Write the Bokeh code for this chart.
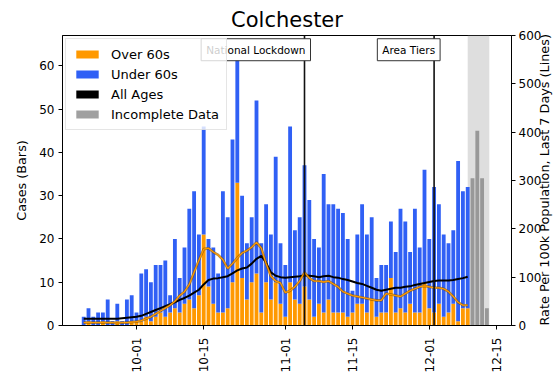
import numpy as np
import pandas as pd
from bokeh.plotting import figure
from bokeh.layouts import row, column
from bokeh.models import (Range1d, LinearAxis, FixedTicker, CustomJSTickFormatter, Span, Spacer,
                          BoxAnnotation, Label, Legend, LegendItem, ColumnDataSource)
from bokeh.embed import file_html
from bokeh.resources import INLINE

# ---------------- data ----------------
title = "Colchester"
start_date = "2020-09-20"
over_60 = [0, 1, 0, 0, 1, 0, 0, 1, 0, 0, 1,
           1, 1, 2, 1, 2, 3, 2, 3, 4, 3,
           5, 6, 4, 7, 21, 9, 5, 3, 3, 4,
           10, 33, 11, 6, 10, 12, 3, 10, 6, 10,
           5, 2, 10, 6, 5, 9, 6, 2, 5, 3,
           6, 3, 3, 3, 2, 3, 5, 5, 3, 6,
           2, 3, 3, 11, 3, 4, 3, 5, 3, 3,
           10, 4, 3, 5, 2, 3, 5, 1, 4, 4]
under_60 = [2, 3, 2, 3, 2, 6, 1, 4, 1, 6, 6,
            2, 11, 11, 9, 12, 11, 13, 4, 16, 8,
            13, 21, 27, 14, 25, 11, 13, 9, 28, 21,
            33, 31, 19, 13, 15, 40, 16, 18, 15, 29,
            14, 12, 36, 16, 20, 28, 23, 18, 13, 32,
            22, 25, 24, 23, 18, 5, 16, 23, 18, 19,
            9, 11, 11, 13, 14, 23, 21, 12, 24, 15,
            26, 16, 29, 23, 19, 16, 17, 37, 27, 28]
rate_all_ages = [14, 14, 14, 14, 14, 14, 14, 14, 15, 16, 17,
                 18, 20, 24, 28, 32, 36, 40, 44, 48, 53,
                 57, 62, 68, 74, 85, 94, 97, 98, 100, 102,
                 108, 114, 118, 120, 128, 138, 144, 130, 110, 103,
                 100, 99, 100, 101, 102, 104, 103, 102, 100, 102,
                 103, 100, 99, 96, 94, 91, 88, 86, 82, 78,
                 74, 72, 74, 76, 78, 78, 80, 81, 84, 86,
                 88, 90, 92, 93, 93, 93, 94, 96, 98, 101]
rate_over_60 = [6, 6, 6, 6, 6, 6, 6, 5, 6, 6, 7,
                8, 10, 14, 18, 24, 30, 36, 42, 50, 62,
                70, 85, 110, 135, 158, 160, 152, 146, 136, 118,
                128, 140, 150, 155, 162, 172, 160, 128, 102, 92,
                88, 68, 72, 80, 92, 110, 98, 92, 92, 90,
                92, 86, 80, 70, 66, 62, 60, 58, 56, 54,
                52, 52, 66, 64, 62, 60, 66, 72, 76, 80,
                82, 80, 78, 78, 76, 70, 60, 48, 42, 42]
incomplete_start = "2020-12-10"
incomplete_cases = [34, 45, 34, 4]
incomplete_span = ["2020-12-09 00:00", "2020-12-13 12:00"]
event_labels = ["National Lockdown", "Area Tiers"]
event_dates = ["2020-11-05", "2020-12-02"]
x_tick_dates = ["2020-10-01", "2020-10-15", "2020-11-01", "2020-11-15", "2020-12-01", "2020-12-15"]
x_limits = ["2020-09-15 14:00", "2020-12-18 03:00"]
left_ticks = [0, 10, 20, 30, 40, 50, 60]
right_ticks = [0, 100, 200, 300, 400, 500, 600]
left_limit = 67
right_limit = 600

ORANGE = "#ff9900"
BLUE = "#3060f5"
FONT = "DejaVu Sans"


def ms(s):
    return pd.Timestamp(s).value / 1e6


dates = pd.date_range(start_date, periods=len(over_60))
inc_dates = pd.date_range(incomplete_start, periods=len(incomplete_cases))
over = np.array(over_60)
under = np.array(under_60)
src = ColumnDataSource(dict(date=dates, over=over, total=over + under,
                            r_all=rate_all_ages, r_over=rate_over_60))
inc_src = ColumnDataSource(dict(date=inc_dates, cases=incomplete_cases))

day_ms = 86400000
bar_w = 0.8 * day_ms

p = figure(frame_width=449, frame_height=290, x_axis_type="datetime",
           x_range=Range1d(ms(x_limits[0]), ms(x_limits[1])),
           y_range=Range1d(0, left_limit),
           output_backend="svg", toolbar_location=None,
           min_border_left=0, min_border_right=0, min_border_top=0, min_border_bottom=0)
p.extra_y_ranges = {"rate": Range1d(0, right_limit)}

p.title.text = title
p.title.text_font = FONT
p.title.text_font_size = "21px"
p.title.text_font_style = "normal"
p.title.text_color = "black"
p.title.align = "center"
p.title.standoff = 7

p.xgrid.visible = False
p.ygrid.visible = False
p.outline_line_color = "black"
p.outline_line_alpha = 1
p.outline_line_width = 1
p.background_fill_color = "white"

# incomplete data shading
p.add_layout(BoxAnnotation(left=ms(incomplete_span[0]), right=ms(incomplete_span[1]),
                           fill_color="#c8c8c8", fill_alpha=0.6, line_color=None, level="underlay"))

r_over = p.vbar(x="date", top="over", bottom=0, width=bar_w, source=src,
                fill_color=ORANGE, line_color=None)
r_under = p.vbar(x="date", top="total", bottom="over", width=bar_w, source=src,
                 fill_color=BLUE, line_color=None)
r_inc = p.vbar(x="date", top="cases", bottom=0, width=bar_w, source=inc_src,
               fill_color="grey", fill_alpha=0.75, line_color=None)
# zero-height swatch renderer so "All Ages" gets a filled patch in the legend
r_all_leg = p.vbar(x="date", top=0, bottom=0, width=bar_w, source=src,
                   fill_color="black", line_color=None)

p.line(x="date", y="r_all", source=src, y_range_name="rate", line_color="black", line_width=2)
p.line(x="date", y="r_over", source=src, y_range_name="rate", line_color="#7a5000",
       line_width=2.6, line_alpha=0.65)
p.line(x="date", y="r_over", source=src, y_range_name="rate", line_color=ORANGE, line_width=1.3)

for lab, d in zip(event_labels, event_dates):
    p.add_layout(Span(location=ms(d), dimension="height", line_color="#111111", line_width=1.6))
    p.add_layout(Label(x=ms(d), y=65.1, text=lab, text_align="right", text_baseline="top",
                       x_offset=6, y_offset=5,
                       text_font=FONT, text_font_size="10.5px", text_color="black",
                       background_fill_color="white", border_line_color="#333333",
                       border_line_width=1, padding=5))

# axes
ax_l = p.yaxis[0]
ax_l.ticker = FixedTicker(ticks=left_ticks)
ax_l.axis_label = "Cases (Bars)"

ax_r = LinearAxis(y_range_name="rate", ticker=FixedTicker(ticks=right_ticks),
                  axis_label="Rate Per 100k Population, Last 7 Days (Lines)")
p.add_layout(ax_r, "right")
try:
    ax_r.axis_label_orientation = np.pi / 2
    ax_r.axis_label_align = "start"
except Exception:
    pass

ax_x = p.xaxis[0]
ax_x.ticker = FixedTicker(ticks=[ms(t) for t in x_tick_dates])
ax_x.formatter = CustomJSTickFormatter(code="""
const d = new Date(tick);
const m = String(d.getUTCMonth() + 1).padStart(2, '0');
const dd = String(d.getUTCDate()).padStart(2, '0');
return m + '-' + dd;
""")
ax_x.major_label_orientation = np.pi / 2

for ax in [ax_l, ax_r, ax_x]:
    ax.axis_line_color = "black"
    ax.major_tick_line_color = "black"
    ax.major_tick_out = 4
    ax.major_tick_in = 0
    ax.minor_tick_line_color = None
    ax.major_label_text_font = FONT
    ax.major_label_text_font_size = "12px"
    ax.major_label_text_color = "black"
    ax.axis_label_text_font = FONT
    ax.axis_label_text_font_size = "12.8px"
    ax.axis_label_text_font_style = "normal"
    ax.axis_label_text_color = "black"
ax_x.major_label_standoff = 8
ax_x.axis_label_standoff = 0
ax_l.major_label_standoff = 4
ax_l.axis_label_standoff = 7
ax_r.major_label_standoff = 3
ax_r.axis_label_standoff = 0

legend = Legend(items=[LegendItem(label="Over 60s", renderers=[r_over]),
                       LegendItem(label="Under 60s", renderers=[r_under]),
                       LegendItem(label="All Ages", renderers=[r_all_leg]),
                       LegendItem(label="Incomplete Data", renderers=[r_inc])],
                location="top_left")
legend.label_text_font = FONT
legend.label_text_font_size = "13px"
legend.label_text_color = "black"
legend.glyph_width = 28
legend.glyph_height = 10
legend.label_height = 16
legend.label_standoff = 10
legend.spacing = 4
legend.padding = 7
legend.margin = 3
legend.background_fill_alpha = 0.8
legend.border_line_color = "#cccccc"
p.add_layout(legend)

page = column(Spacer(height=2), row(Spacer(width=11), p))

open("out.html", "w").write(file_html(page, INLINE))
